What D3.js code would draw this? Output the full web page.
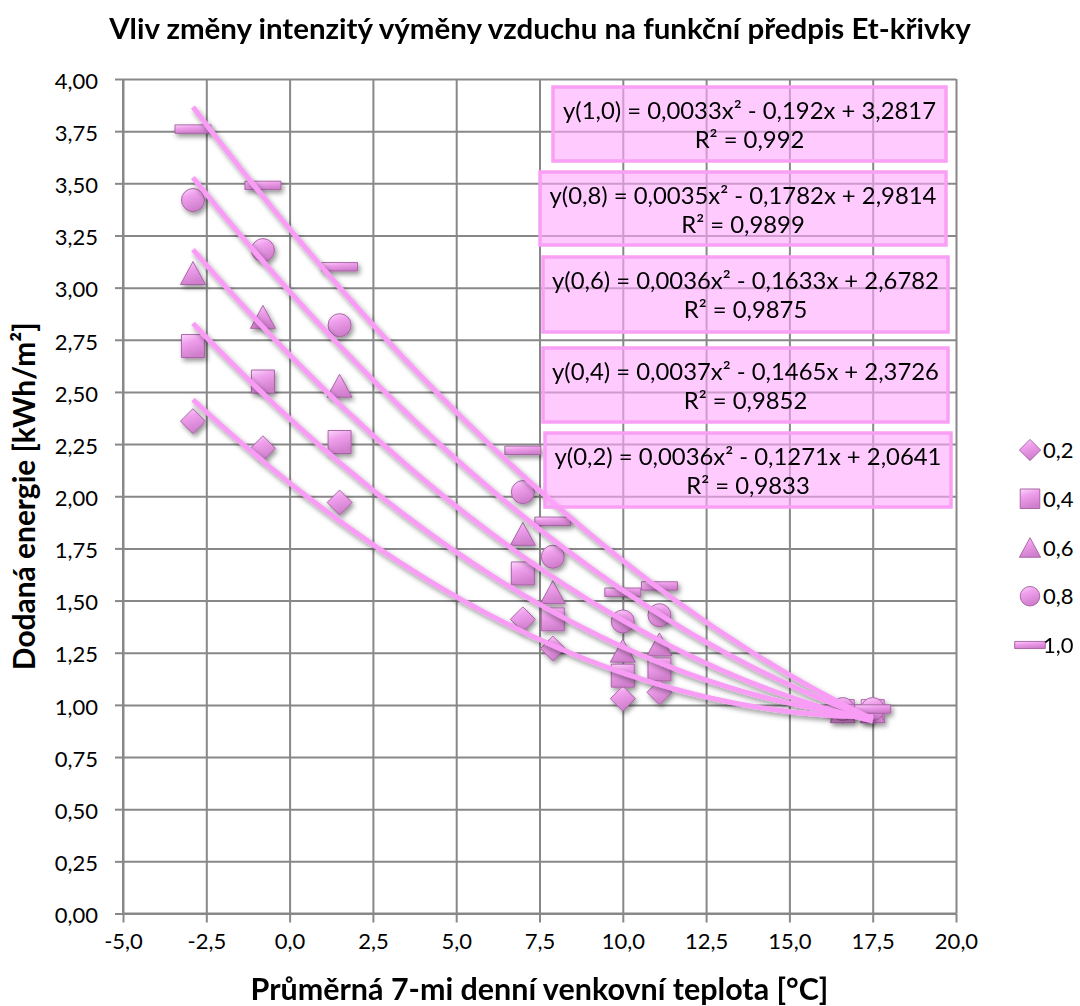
<!DOCTYPE html>
<html>
<head>
<meta charset="utf-8">
<script src="https://cdn.jsdelivr.net/npm/d3@7"></script>
<style>
body{margin:0;background:#fff;}
text{font-family:Lato,'Open Sans',sans-serif;fill:#000;}
</style>
</head>
<body>
<div id="canvas"></div>
<script>
var W = 1080, H = 1006;
var m = {t:79, r:124, b:92.5, l:123};

// data
var temps = [-2.9, -0.8, 1.5, 7.0, 7.9, 10.0, 11.1, 16.6, 17.5];
var seriesNames = ['0,2', '0,4', '0,6', '0,8', '1,0'];
var s02 = [2.36, 2.23, 1.97, 1.41, 1.27, 1.03, 1.06, 0.97, 0.97];
var s04 = [2.72, 2.55, 2.26, 1.63, 1.41, 1.14, 1.17, 0.97, 0.97];
var s06 = [3.07, 2.86, 2.53, 1.82, 1.54, 1.26, 1.29, 0.97, 0.97];
var s08 = [3.42, 3.18, 2.82, 2.02, 1.71, 1.40, 1.43, 0.98, 0.98];
var s10 = [3.76, 3.49, 3.10, 2.22, 1.88, 1.54, 1.57, 0.98, 0.98];

// trendline coefficients y = a x^2 + b x + c
var coefA = [0.0036, 0.0037, 0.0036, 0.0035, 0.0033];
var coefB = [-0.1271, -0.1465, -0.1633, -0.1782, -0.192];
var coefC = [2.0641, 2.3726, 2.6782, 2.9814, 3.2817];
var eqA = ['0,0036', '0,0037', '0,0036', '0,0035', '0,0033'];
var eqB = ['0,1271', '0,1465', '0,1633', '0,1782', '0,192'];
var eqC = ['2,0641', '2,3726', '2,6782', '2,9814', '3,2817'];
var rSq = ['0,9833', '0,9852', '0,9875', '0,9899', '0,992'];

var xTicks = d3.range(-5, 20.01, 2.5);
var yTicks = d3.range(0, 4.001, 0.25);

var values = [s02, s04, s06, s08, s10];
var shapes = ['diamond', 'square', 'triangle', 'circle', 'dash'];

// equation label boxes [left, top, right, bottom] per series
var boxes = [
    [545, 433, 951, 507],
    [543, 348, 948, 422],
    [543, 257, 948, 332],
    [540, 172, 946, 245],
    [553, 87, 946, 161]
];

var loc = d3.formatLocale({decimal:',', thousands:' ', grouping:[3], currency:['',''], minus:'-'});
var fx = loc.format('.1f'), fy = loc.format('.2f');

var svg = d3.select('#canvas').append('svg')
    .attr('width', W).attr('height', H);

var defs = svg.append('defs');
var grad = defs.append('linearGradient').attr('id','mk')
    .attr('x1',0).attr('y1',0).attr('x2',0.35).attr('y2',1);
grad.append('stop').attr('offset','0%').attr('stop-color','#fbd8fa');
grad.append('stop').attr('offset','40%').attr('stop-color','#ef9fec');
grad.append('stop').attr('offset','100%').attr('stop-color','#d07fcd');

var sh = defs.append('filter').attr('id','shadow')
    .attr('x','-20%').attr('y','-20%').attr('width','150%').attr('height','150%');
sh.append('feDropShadow').attr('dx',2).attr('dy',3).attr('stdDeviation',2.5)
    .attr('flood-color','#000').attr('flood-opacity',0.42);

var x = d3.scaleLinear().domain([-5, 20]).range([m.l, W - m.r]);
var y = d3.scaleLinear().domain([0, 4]).range([H - m.b, m.t]);

//Gridlines
svg.append('g').attr('class','grid')
    .attr('transform','translate(0,' + (H - m.b) + ')')
    .call(d3.axisBottom(x).tickValues(xTicks).tickSize(-(H - m.b - m.t)).tickFormat(''))
    .call(function(g){ g.select('.domain').remove(); });
svg.append('g').attr('class','grid')
    .attr('transform','translate(' + m.l + ',0)')
    .call(d3.axisLeft(y).tickValues(yTicks).tickSize(-(W - m.r - m.l)).tickFormat(''))
    .call(function(g){ g.select('.domain').remove(); });
svg.selectAll('.grid line').attr('stroke','#888').attr('stroke-width',2);

//Axes
var xAxis = svg.append('g')
    .attr('transform','translate(0,' + (H - m.b) + ')')
    .call(d3.axisBottom(x).tickValues(xTicks).tickSize(9).tickPadding(11).tickFormat(fx));
var yAxis = svg.append('g')
    .attr('transform','translate(' + m.l + ',0)')
    .call(d3.axisLeft(y).tickValues(yTicks).tickSize(8).tickPadding(17).tickFormat(fy));
[xAxis, yAxis].forEach(function(a){
    a.attr('font-size', 22).attr('font-family', null);
    a.select('.domain').attr('stroke','#888').attr('stroke-width',2).attr('d',
        a === xAxis ? 'M' + m.l + ',0H' + (W - m.r) : 'M0,' + (H - m.b) + 'V' + m.t);
    a.selectAll('line').attr('stroke','#888').attr('stroke-width',2);
    a.selectAll('text').attr('fill','#000');
});
yAxis.selectAll('text').attr('dy','0.42em');

//Marker paths
function markerPath(shape, k){
    k = k || 1;
    if(shape === 'diamond'){ var a = 12.5*k; return 'M0,'+(-a)+'L'+a+',0L0,'+a+'L'+(-a)+',0Z'; }
    if(shape === 'square'){ var s = 11.5*k; return 'M'+(-s)+','+(-s)+'H'+s+'V'+s+'H'+(-s)+'Z'; }
    if(shape === 'triangle'){ var w = 12.5*k, t = 11.5*k; return 'M0,'+(-t)+'L'+w+','+t+'L'+(-w)+','+t+'Z'; }
    if(shape === 'circle'){ var r = 11.5*k; return 'M'+(-r)+',0A'+r+','+r+' 0 1,0 '+r+',0A'+r+','+r+' 0 1,0 '+(-r)+',0Z'; }
    var hw = 18*k, hh = 4.2*k;
    return 'M'+(-hw)+','+(-hh)+'H'+hw+'V'+hh+'H'+(-hw)+'Z';
}

var marks = svg.append('g').attr('filter','url(#shadow)');
values.forEach(function(vals, i){
    marks.selectAll('.pt' + i)
        .data(vals)
        .enter()
        .append('path')
        .attr('class','pt' + i)
        .attr('transform', function(d, j){ return 'translate(' + x(temps[j]) + ',' + y(d) + ')'; })
        .attr('d', markerPath(shapes[i]))
        .attr('fill','url(#mk)')
        .attr('stroke','#a35c9f')
        .attr('stroke-width',0.9);
});

//Trendlines
var line = d3.line().x(function(d){ return x(d[0]); }).y(function(d){ return y(d[1]); });
var trends = svg.append('g').attr('filter','url(#shadow)');
values.forEach(function(vals, i){
    var x0 = d3.min(temps), x1 = d3.max(temps);
    var pts = d3.range(0, 81).map(function(k){
        var t = x0 + (x1 - x0) * k / 80;
        return [t, coefA[i]*t*t + coefB[i]*t + coefC[i]];
    });
    trends.append('path')
        .attr('d', line(pts))
        .attr('fill','none')
        .attr('stroke','#f99cf5')
        .attr('stroke-width',5);
});

//Equation boxes
var eqSize = 20;
var labels = svg.append('g');
values.forEach(function(vals, i){
    var b = boxes[i], cx = (b[0] + b[2]) / 2;
    var g = labels.append('g');
    g.append('rect')
        .attr('x', b[0]).attr('y', b[1])
        .attr('width', b[2] - b[0]).attr('height', b[3] - b[1])
        .attr('fill','#ffa8ff').attr('fill-opacity',0.6)
        .attr('stroke','#f99ff5').attr('stroke-width',3.5);
    g.append('text').attr('class','eq1')
        .attr('x', cx).attr('y', b[1] + 32)
        .attr('text-anchor','middle').attr('font-size', eqSize)
        .text('y(' + seriesNames[i] + ') = ' + eqA[i] + 'x\u00b2 - ' + eqB[i] + 'x + ' + eqC[i]);
    g.append('text')
        .attr('x', cx).attr('y', b[1] + 61)
        .attr('text-anchor','middle').attr('font-size', eqSize)
        .text('R\u00b2 = ' + rSq[i]);
});
// scale equation text so the 0,4 line is as wide as in the picture
var ref = labels.selectAll('.eq1').nodes()[1].getComputedTextLength();
eqSize = eqSize * 387 / ref;
labels.selectAll('text').attr('font-size', eqSize);

//Legend
var ly = d3.scalePoint().domain(seriesNames).range([450, 645]);
var legend = svg.append('g');
seriesNames.forEach(function(n, i){
    legend.append('path')
        .attr('transform','translate(1030,' + ly(n) + ')')
        .attr('d', markerPath(shapes[i], 0.85))
        .attr('fill','url(#mk)').attr('stroke','#a35c9f').attr('stroke-width',0.9);
    legend.append('text')
        .attr('x', 1043).attr('y', ly(n) + 8)
        .attr('font-size', 22)
        .text(n);
});

//Titles
function fit(sel, target){
    var w = sel.node().getComputedTextLength();
    sel.attr('font-size', parseFloat(sel.attr('font-size')) * target / w);
}
var title = svg.append('text')
    .attr('x', 540).attr('y', 39)
    .attr('text-anchor','middle').attr('font-weight','bold').attr('font-size',24)
    .text('Vliv změny intenzitý výměny vzduchu na funkční předpis Et-křivky');
fit(title, 862);

var xt = svg.append('text')
    .attr('x', (m.l + W - m.r) / 2).attr('y', 1000)
    .attr('text-anchor','middle').attr('font-weight','bold').attr('font-size',24)
    .text('Průměrná 7-mi denní venkovní teplota [°C]');
fit(xt, 578);

var yt = svg.append('text')
    .attr('transform','translate(35,' + (m.t + H - m.b) / 2 + ') rotate(-90)')
    .attr('text-anchor','middle').attr('font-weight','bold').attr('font-size',24)
    .text('Dodaná energie [kWh/m\u00b2]');
fit(yt, 348);
</script>
</body>
</html>
